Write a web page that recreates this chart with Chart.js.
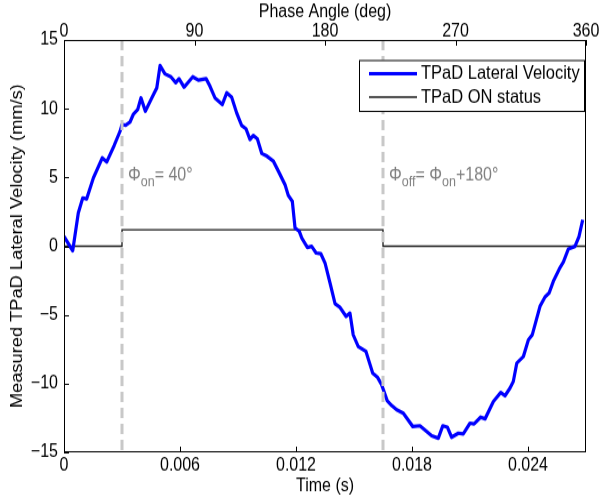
<!DOCTYPE html>
<html>
<head>
<meta charset="utf-8">
<script src="https://cdn.jsdelivr.net/npm/chart.js@4"></script>
<style>
  html, body { margin: 0; padding: 0; background: #fff; }
  /* figure was exported taller than it was drawn: stretch the canvas vertically */
  #velChart { display: block; width: 600px; height: 498px; }
</style>
</head>
<body>
<canvas id="velChart" width="600" height="436" style="width:600px;height:498px"></canvas>
<script>
// measured lateral velocity (time in s, velocity in mm/s)
const timeVals = [0, 0.00045, 0.00074, 0.00097, 0.00117, 0.00152, 0.00198, 0.00221, 0.00260, 0.00290,
  0.00300, 0.00319, 0.00341, 0.00358, 0.00381, 0.00398, 0.00421, 0.00454, 0.00480, 0.00497,
  0.00522, 0.00553, 0.00578, 0.00595, 0.00621, 0.00666, 0.00695, 0.00735, 0.00755, 0.00781,
  0.00819, 0.00842, 0.00867, 0.00893, 0.00919, 0.00941, 0.00962, 0.00979, 0.01000, 0.01023,
  0.01045, 0.01083, 0.01109, 0.01143, 0.01160, 0.01181, 0.01195, 0.01217, 0.01230, 0.01259,
  0.01281, 0.01304, 0.01328, 0.01350, 0.01376, 0.01402, 0.01428, 0.01459, 0.01479, 0.01496,
  0.01522, 0.01562, 0.01597, 0.01621, 0.01643, 0.01672, 0.01695, 0.01721, 0.01755, 0.01804,
  0.01841, 0.01902, 0.01936, 0.01959, 0.01983, 0.02005, 0.02040, 0.02065, 0.02100, 0.02121,
  0.02155, 0.02178, 0.02221, 0.02259, 0.02281, 0.02307, 0.02324, 0.02342, 0.02376, 0.02402,
  0.02422, 0.02462, 0.02488, 0.02509, 0.02531, 0.02562, 0.02583, 0.02609, 0.02643, 0.02664,
  0.02683];
const velocityVals = [0.71, -0.33, 2.42, 3.51, 3.44, 4.97, 6.42, 6.13, 7.34, 8.36,
  8.85, 8.80, 9.02, 9.58, 9.94, 10.79, 9.82, 10.79, 11.52, 13.15,
  12.54, 12.32, 11.89, 12.18, 11.57, 12.32, 12.08, 12.18, 11.64, 10.79,
  10.31, 11.16, 10.84, 9.70, 8.78, 8.54, 7.76, 8.05, 7.81, 6.74,
  6.59, 6.18, 5.45, 4.48, 3.70, 3.26, 1.33, 1.08, 0.60, -0.09,
  -0.01, -0.50, -0.55, -1.22, -2.68, -4.19, -4.46, -5.11, -4.87, -6.45,
  -7.30, -7.66, -9.24, -9.53, -10.09, -11.25, -11.60, -11.91, -12.15, -13.12,
  -13.07, -13.80, -13.97, -13.07, -13.17, -13.90, -13.61, -13.66, -12.88, -12.93,
  -12.44, -12.56, -11.30, -10.65, -10.89, -10.33, -9.85, -8.51, -8.03, -6.81,
  -6.45, -4.38, -3.70, -3.41, -2.56, -1.66, -1.15, -0.20, -0.01, 0.71,
  1.93];

// TPaD on/off status (step)
const statusTimes = [0, 0.003, 0.0165, 0.027];
const statusVals = [0, 1.2, 0, 0];

// axes
const timeTicks = [0, 0.006, 0.012, 0.018, 0.024];
const phaseTicks = [0, 90, 180, 270, 360];
const velTicks = [-15, -10, -5, 0, 5, 10, 15];
const phaseMarks = [40, 220];

const FONT = '"Liberation Sans", Arial, Helvetica, sans-serif';

const toXY = (xs, ys) => xs.map((x, i) => ({ x: x, y: ys[i] }));

// dashed phase lines, inward ticks, box, annotations and legend
const decorPlugin = {
  id: 'decor',
  afterDatasetsDraw(chart) {
    const { ctx, chartArea: a, scales } = chart;
    const ph = scales.x2;
    ctx.save();
    ctx.strokeStyle = '#c8c8c8';
    ctx.lineWidth = 3;
    ctx.setLineDash([9, 5]);
    phaseMarks.forEach(p => {
      const px = Math.round(ph.getPixelForValue(p));
      ctx.beginPath();
      ctx.moveTo(px, a.top);
      ctx.lineTo(px, a.bottom);
      ctx.stroke();
    });
    ctx.restore();
  },
  afterDraw(chart) {
    const { ctx, chartArea: a, scales } = chart;
    const tl = 5;
    ctx.save();
    ctx.strokeStyle = '#000';
    ctx.lineWidth = 1;
    ctx.strokeRect(a.left + 0.5, a.top + 0.5, a.right - a.left - 1, a.bottom - a.top - 1);
    ctx.beginPath();
    velTicks.forEach(v => {
      const py = Math.round(scales.y.getPixelForValue(v)) + 0.5;
      ctx.moveTo(a.left, py); ctx.lineTo(a.left + tl, py);
    });
    timeTicks.forEach(t => {
      const px = Math.round(scales.x.getPixelForValue(t)) + 0.5;
      ctx.moveTo(px, a.bottom); ctx.lineTo(px, a.bottom - tl);
    });
    phaseTicks.forEach(p => {
      const px = Math.round(scales.x2.getPixelForValue(p)) + 0.5;
      ctx.moveTo(px, a.top); ctx.lineTo(px, a.top + tl);
    });
    ctx.stroke();

    // phase annotations
    ctx.fillStyle = '#808080';
    ctx.textBaseline = 'alphabetic';
    const yBase = scales.y.getPixelForValue(4.8);
    const runs = (x0, parts) => {
      let x = x0;
      parts.forEach(([txt, sub]) => {
        ctx.font = (sub ? '12.5px ' : '16px ') + FONT;
        ctx.fillText(txt, x, yBase + (sub ? 5 : 0));
        x += ctx.measureText(txt).width;
      });
    };
    runs(scales.x2.getPixelForValue(phaseMarks[0]) + 6, [['\u03A6', 0], ['on', 1], ['= 40\u00B0', 0]]);
    runs(scales.x2.getPixelForValue(phaseMarks[1]) + 6,
      [['\u03A6', 0], ['off', 1], ['= \u03A6', 0], ['on', 1], ['+180\u00B0', 0]]);

    // legend box
    const lx = 359, ly = 52.5, lw = 225, lh = 44.5;
    ctx.fillStyle = '#fff';
    ctx.fillRect(lx, ly, lw, lh);
    ctx.strokeStyle = '#000';
    ctx.strokeRect(lx + 0.5, ly + 0.5, lw, lh);
    ctx.font = '16.5px ' + FONT;
    ctx.textBaseline = 'middle';
    chart.data.datasets.forEach((ds, i) => {
      const yy = ly + 12 + i * 20.5;
      ctx.strokeStyle = ds.borderColor;
      ctx.lineWidth = ds.borderWidth;
      ctx.beginPath();
      ctx.moveTo(lx + 10, yy); ctx.lineTo(lx + 58, yy);
      ctx.stroke();
      ctx.fillStyle = '#000';
      ctx.fillText(ds.label, lx + 62, yy);
    });
    ctx.restore();
  }
};

const noSidePad = s => { s.paddingLeft = 0; s.paddingRight = 0; };

new Chart(document.getElementById('velChart'), {
  type: 'line',
  data: {
    datasets: [{
      label: 'TPaD Lateral Velocity',
      data: toXY(timeVals, velocityVals),
      borderColor: '#0000ff',
      borderWidth: 3.2,
      pointRadius: 0,
      tension: 0,
      borderJoinStyle: 'round',
      order: 1
    }, {
      label: 'TPaD ON status',
      data: toXY(statusTimes, statusVals),
      borderColor: '#1a1a1a',
      borderWidth: 1.3,
      pointRadius: 0,
      stepped: 'before',
      order: 2
    }]
  },
  options: {
    responsive: false,
    animation: false,
    events: [],
    layout: { padding: { left: 0, right: 14, top: 0, bottom: 0 } },
    plugins: { legend: { display: false }, tooltip: { enabled: false } },
    scales: {
      x: {
        type: 'linear', position: 'bottom', min: 0, max: 0.027,
        grid: { display: false, drawTicks: false },
        border: { display: false },
        afterBuildTicks: s => { s.ticks = timeTicks.map(v => ({ value: v })); },
        afterFit: s => { s.height = 40; noSidePad(s); },
        ticks: { color: '#000', padding: 2, maxRotation: 0, font: { family: FONT, size: 16 },
          callback: v => String(v) },
        title: { display: true, text: 'Time (s)', color: '#000', padding: { top: 0, bottom: 1 },
          font: { family: FONT, size: 16 } }
      },
      x2: {
        type: 'linear', position: 'top', min: 0, max: 360,
        grid: { display: false, drawTicks: false },
        border: { display: false },
        afterBuildTicks: s => { s.ticks = phaseTicks.map(v => ({ value: v })); },
        afterFit: s => { s.height = 35; noSidePad(s); },
        ticks: { color: '#000', padding: -2, maxRotation: 0, font: { family: FONT, size: 16 } },
        title: { display: true, text: 'Phase Angle (deg)', color: '#000', padding: { top: 1, bottom: 0 },
          font: { family: FONT, size: 16 } }
      },
      y: {
        type: 'linear', position: 'left', min: -15, max: 15,
        grid: { display: false, drawTicks: false },
        border: { display: false },
        afterBuildTicks: s => { s.ticks = velTicks.map(v => ({ value: v })); },
        afterFit: s => { s.width = 64; },
        ticks: { color: '#000', padding: 6, font: { family: FONT, size: 16 },
          callback: v => String(v).replace('-', '\u2212') },
        title: { display: true, text: 'Measured TPaD Lateral Velocity (mm/s)', color: '#000',
          padding: { top: 8, bottom: 0 }, font: { family: FONT, size: 16 } }
      }
    }
  },
  plugins: [decorPlugin]
});
</script>
</body>
</html>
